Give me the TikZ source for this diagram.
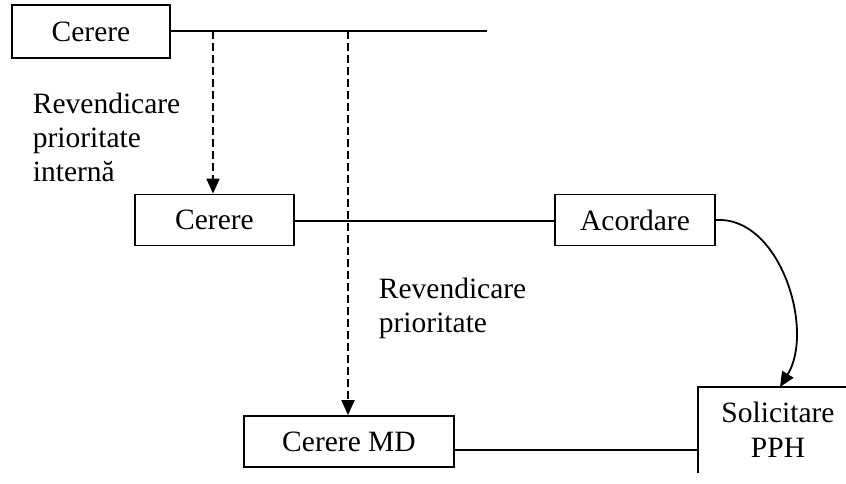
\documentclass[tikz,border=0pt]{standalone}
\usepackage{fontspec}
\setmainfont{Liberation Serif}
\usetikzlibrary{arrows.meta,calc}
\begin{document}
\begin{tikzpicture}[x=1pt,y=-1pt,
  line width=1.8pt,
  boxnode/.style={draw,inner sep=0pt,font=\fontsize{29.5}{34}\selectfont},
  lbl/.style={inner sep=0pt,align=left,anchor=north west,font=\fontsize{29.5}{34}\selectfont},
  dashconn/.style={dash pattern=on 8pt off 4pt,-{Triangle[length=15pt,width=13pt]}},
  arr/.style={-{Triangle[length=15pt,width=13pt]}}]
\useasboundingbox (0,0) rectangle (846,483);
% boxes
\node[boxnode,minimum width=158pt,minimum height=53pt] (c1) at (91,31.5) {Cerere};
\node[boxnode,minimum width=159pt,minimum height=51pt] (c2) at (214.5,220) {Cerere};
\node[boxnode,minimum width=160pt,minimum height=51pt] (acc) at (635,220) {Acordare};
\node[boxnode,minimum width=210pt,minimum height=51pt] (md) at (349,441.5) {Cerere MD};
% clipped Solicitare box
\coordinate (solbl) at (698,473);
\coordinate (soltl) at (698,387);
\coordinate (soltr) at (846,387);
\draw (solbl) -- (soltl) -- (soltr);
\node[inner sep=0pt,align=center,anchor=north,font=\fontsize{29.5}{35}\selectfont] (sol) at (778,401) {Solicitare\\PPH};
% top line
\coordinate (tend) at (487,31);
\draw (c1.east |- tend) -- (tend);
\coordinate (d1) at (213,31);
\coordinate (d2) at (348,31);
\draw[dashconn] (d1) -- (d1 |- c2.north);
\draw[dashconn] (d2) -- (d2 |- md.north);
% middle line
\coordinate (mid) at (0,221);
\draw (c2.east |- mid) -- (acc.west |- mid);
% bottom line
\coordinate (solin) at (698,450);
\draw (md.east |- solin) -- (solin);
% curve
\coordinate (soltop) at (780,387);
\draw[arr] (acc.east) .. controls (780,216) and (815,330) .. (soltop);
% labels
\node[lbl] (l1) at (32,92) {Revendicare\\prioritate\\intern\u{a}};
\node[lbl] (l2) at (378,277) {Revendicare\\prioritate};
\end{tikzpicture}
\end{document}
